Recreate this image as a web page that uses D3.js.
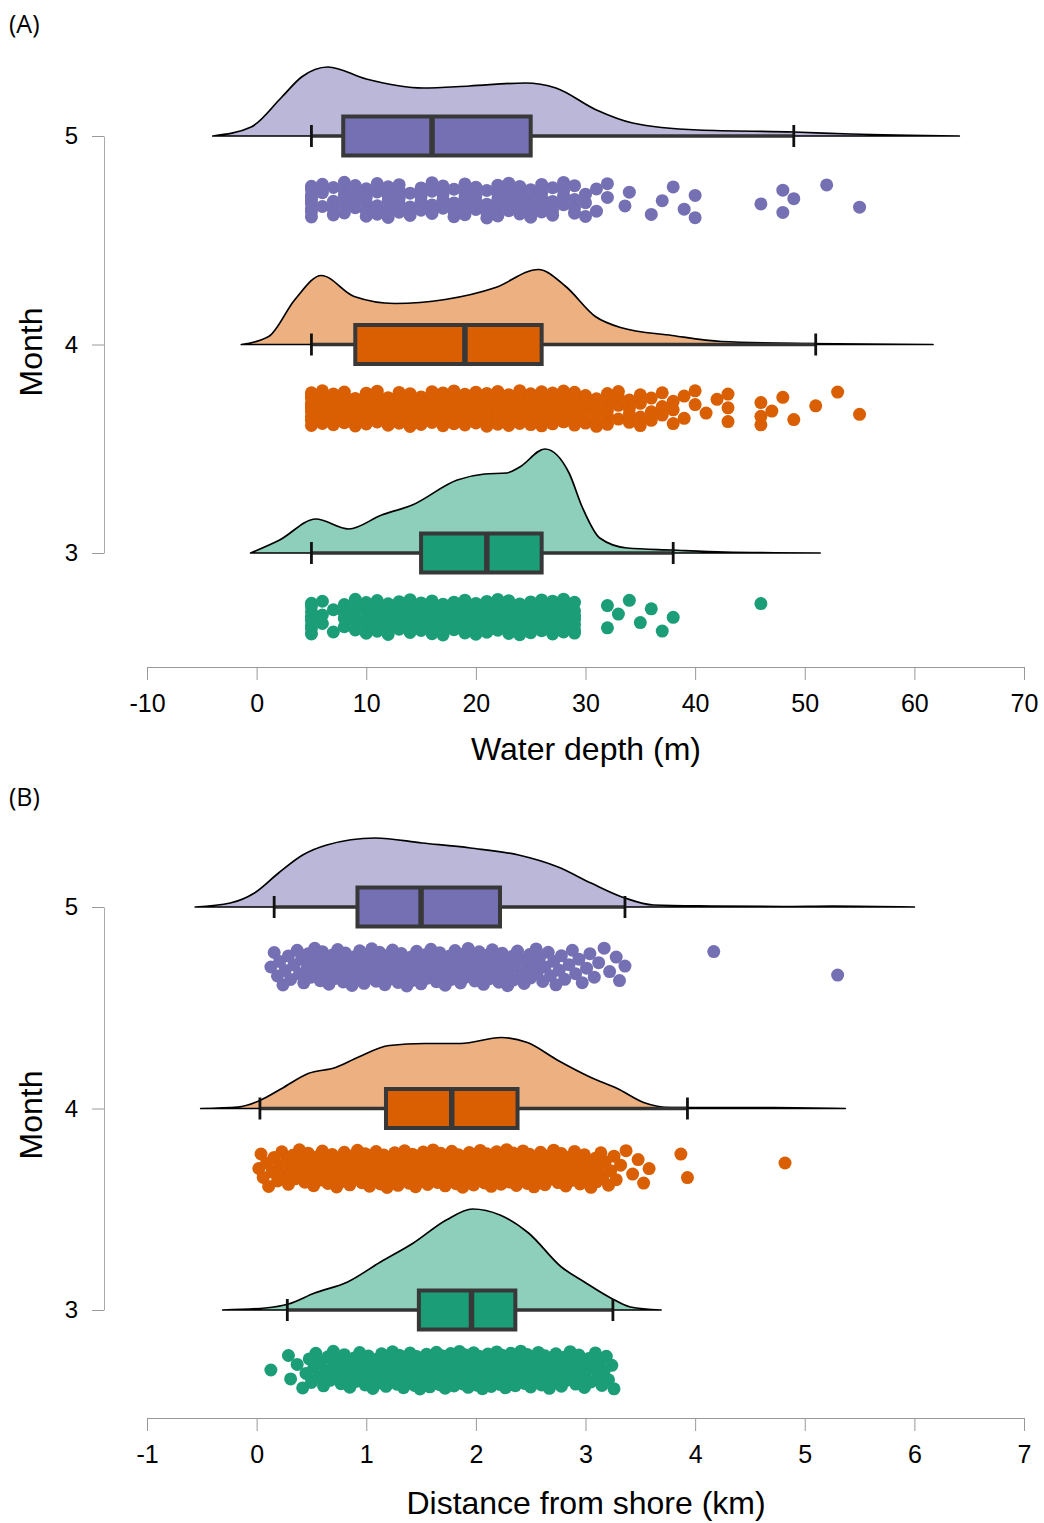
<!DOCTYPE html>
<html>
<head>
<meta charset="utf-8">
<script src="https://cdn.jsdelivr.net/npm/d3@7"></script>
<style>
  body { margin: 0; background: #fff; }
  svg { display: block; font-family: "Liberation Sans", Arial, sans-serif; }
</style>
</head>
<body>
<svg id="chart" width="1044" height="1523"></svg>
<script>
// ---------- shared ----------
const months = [5, 4, 3];
const monthColors = ["#7570b3", "#d95f02", "#1b9e77"];
const densityFills = ["#bab7d9", "#ecb081", "#8dcfba"];

// ---------- Panel A: water depth (m) ----------
const depthTicks = [-10, 0, 10, 20, 30, 40, 50, 60, 70];
// box statistics per month (5, 4, 3)
const depthWhiskLo = [5, 5, 5];
const depthQ1 = [7.9, 9, 15];
const depthMedian = [16, 19, 21];
const depthQ3 = [25, 26, 26];
const depthWhiskHi = [49, 51, 38];

// kernel density profiles
const depthDensX5 = [-4.0, -0.5, 2.3, 4.1, 6.5, 10, 15.2, 19.4, 24.5, 27.3, 31.0, 34.3, 40.3, 49, 54.2, 64.1];
const depthDens5 = [0, 0.0045, 0.0195, 0.0295, 0.0345, 0.0285, 0.024, 0.025, 0.0265, 0.024, 0.013, 0.0065, 0.003, 0.002, 0.001, 0];
const depthDensX4 = [-1.4, 1.1, 3.5, 5.9, 8.9, 12.6, 17.2, 21.8, 25.7, 28.2, 30.9, 33.2, 37.9, 42.4, 50, 61.7];
const depthDens4 = [0, 0.004, 0.0225, 0.0345, 0.024, 0.0205, 0.0225, 0.0285, 0.0375, 0.029, 0.014, 0.0085, 0.0045, 0.0015, 0.0005, 0];
const depthDensX3 = [-0.55, 2.1, 5.4, 8.4, 11.4, 14.2, 18.3, 20.8, 22.8, 24.0, 26.3, 28.5, 29.7, 31.3, 33.8, 37.9, 42.7, 51.4];
const depthDens3 = [0, 0.0065, 0.017, 0.012, 0.019, 0.024, 0.0365, 0.0395, 0.04, 0.043, 0.052, 0.04, 0.023, 0.0075, 0.0025, 0.0015, 0.0005, 0];

// observed depths (m) and number of observations at each depth
const depthValues5 = [5, 6, 7, 8, 9, 10, 11, 12, 13, 14, 15, 16, 17, 18, 19, 20, 21, 22, 23, 24, 25, 26, 27, 28, 29, 30, 31, 32, 33.6, 34, 36, 37, 38, 39, 40, 46, 48, 49, 52, 55];
const depthCounts5 = [9, 3, 4, 5, 4, 5, 4, 5, 5, 3, 4, 4, 4, 4, 5, 4, 4, 5, 5, 5, 5, 5, 4, 4, 4, 3, 2, 2, 1, 1, 1, 1, 1, 1, 2, 1, 2, 1, 1, 1];
const depthValues4 = [5, 6, 7, 8, 9, 10, 11, 12, 13, 14, 15, 16, 17, 18, 19, 20, 21, 22, 23, 24, 25, 26, 27, 28, 29, 30, 31, 32, 33, 34, 35, 36, 37, 38, 39, 40, 41, 42, 43, 46, 47, 48, 49, 51, 53, 55];
const depthCounts4 = [10, 10, 9, 7, 7, 7, 7, 7, 7, 7, 7, 7, 8, 8, 8, 8, 9, 9, 10, 10, 11, 11, 10, 8, 8, 6, 5, 5, 4, 4, 4, 3, 3, 3, 2, 2, 1, 1, 3, 3, 1, 1, 1, 1, 1, 1];
const depthValues3 = [5, 6, 7, 8, 9, 10, 11, 12, 13, 14, 15, 16, 17, 18, 19, 20, 21, 22, 23, 24, 25, 26, 27, 28, 29, 32, 33, 34, 35, 36, 37, 38, 46];
const depthCounts3 = [8, 3, 2, 4, 5, 6, 6, 6, 6, 6, 7, 7, 7, 7, 8, 8, 8, 8, 8, 9, 9, 9, 9, 8, 7, 2, 1, 1, 1, 1, 1, 1, 1];

// ---------- Panel B: distance from shore (km) ----------
const distTicks = [-1, 0, 1, 2, 3, 4, 5, 6, 7];
const distWhiskLo = [0.16, 0.03, 0.28];
const distQ1 = [0.92, 1.18, 1.48];
const distMedian = [1.5, 1.78, 1.96];
const distQ3 = [2.22, 2.38, 2.36];
const distWhiskHi = [3.36, 3.93, 3.25];

const distDensX5 = [-0.56, -0.24, -0.02, 0.2, 0.42, 0.64, 1.08, 1.51, 1.95, 2.39, 2.75, 3.05, 3.36, 3.62, 4.15, 4.8, 5.25, 6.0];
const distDens5 = [0, 0.02, 0.07, 0.17, 0.26, 0.31, 0.345, 0.32, 0.295, 0.26, 0.2, 0.12, 0.045, 0.01, 0.005, 0.0025, 0.005, 0];
const distDensX4 = [-0.51, -0.17, 0.03, 0.23, 0.47, 0.72, 0.92, 1.21, 1.53, 1.86, 2.23, 2.47, 2.75, 3.05, 3.29, 3.53, 3.78, 4.72, 5.37];
const distDens4 = [0, 0.0075, 0.04, 0.1, 0.175, 0.205, 0.255, 0.315, 0.325, 0.325, 0.355, 0.33, 0.24, 0.155, 0.1, 0.03, 0.005, 0.005, 0];
const distDensX3 = [-0.31, 0.08, 0.29, 0.53, 0.83, 1.13, 1.43, 1.73, 1.97, 2.22, 2.48, 2.78, 2.99, 3.23, 3.41, 3.69];
const distDens3 = [0, 0.01, 0.03, 0.085, 0.14, 0.24, 0.335, 0.45, 0.505, 0.475, 0.385, 0.215, 0.14, 0.06, 0.015, 0];

// observed distances (km)
const distValues5 = [
  0.13, 0.16, 0.19, 0.21, 0.24, 0.26, 0.29, 0.31, 0.34, 0.37, 0.39,
  0.41, 0.43, 0.46, 0.47, 0.49, 0.50, 0.53, 0.54, 0.56, 0.58, 0.59,
  0.60, 0.62, 0.65, 0.66, 0.68, 0.69, 0.71, 0.72, 0.74, 0.76, 0.77, 0.79,
  0.80, 0.81, 0.83, 0.85, 0.87, 0.88, 0.90, 0.91, 0.93, 0.94, 0.95, 0.97, 0.98, 0.99,
  1.00, 1.02, 1.04, 1.05, 1.06, 1.08, 1.09, 1.11, 1.12, 1.13, 1.15, 1.17, 1.18, 1.19,
  1.21, 1.23, 1.24, 1.26, 1.28, 1.29, 1.30, 1.32, 1.33, 1.35, 1.37, 1.39,
  1.41, 1.42, 1.44, 1.46, 1.48, 1.49, 1.50, 1.53, 1.54, 1.55, 1.57, 1.59,
  1.61, 1.63, 1.64, 1.66, 1.67, 1.69, 1.70, 1.72, 1.74, 1.76, 1.77, 1.79,
  1.81, 1.82, 1.84, 1.86, 1.88, 1.89, 1.90, 1.92, 1.93, 1.95, 1.97, 1.99,
  2.01, 2.03, 2.04, 2.06, 2.07, 2.09, 2.10, 2.12, 2.14, 2.15, 2.18, 2.19,
  2.21, 2.22, 2.24, 2.26, 2.27, 2.29, 2.30, 2.33, 2.34, 2.36, 2.38,
  2.41, 2.43, 2.44, 2.47, 2.49, 2.50, 2.52, 2.55, 2.56, 2.58,
  2.61, 2.63, 2.66, 2.68, 2.71, 2.73, 2.76, 2.78, 2.81, 2.85, 2.88,
  2.91, 2.94, 2.97, 3.01, 3.04, 3.08, 3.12, 3.17, 3.22, 3.28, 3.31, 3.36,
  4.17, 5.30
];
const distValues4 = [
  0.02, 0.04, 0.06, 0.09, 0.11, 0.14, 0.16, 0.19, 0.20, 0.23, 0.25, 0.27, 0.29,
  0.31, 0.33, 0.35, 0.38, 0.39, 0.40, 0.42, 0.44, 0.45, 0.47, 0.49,
  0.51, 0.52, 0.54, 0.56, 0.58, 0.59, 0.60, 0.62, 0.63, 0.65, 0.67, 0.69,
  0.70, 0.71, 0.73, 0.74, 0.76, 0.78, 0.79, 0.80, 0.82, 0.83, 0.85, 0.86, 0.88, 0.89,
  0.91, 0.92, 0.93, 0.95, 0.96, 0.98, 0.99,
  1.00, 1.01, 1.03, 1.04, 1.05, 1.07, 1.08, 1.09, 1.10, 1.12, 1.13, 1.14, 1.16, 1.17, 1.18, 1.19,
  1.21, 1.22, 1.23, 1.25, 1.26, 1.27, 1.28, 1.29, 1.30, 1.31, 1.33, 1.34, 1.35, 1.37, 1.38, 1.39,
  1.40, 1.42, 1.43, 1.44, 1.45, 1.47, 1.48, 1.49, 1.51, 1.52, 1.53, 1.54, 1.56, 1.57, 1.58, 1.59,
  1.60, 1.61, 1.63, 1.64, 1.65, 1.66, 1.68, 1.69, 1.70, 1.72, 1.73, 1.74, 1.75, 1.77, 1.78, 1.79,
  1.81, 1.82, 1.83, 1.84, 1.86, 1.87, 1.88, 1.89, 1.90, 1.91, 1.93, 1.94, 1.95, 1.96, 1.98, 1.99,
  2.00, 2.02, 2.03, 2.04, 2.05, 2.07, 2.08, 2.09, 2.10, 2.11, 2.12, 2.14, 2.15, 2.16, 2.17, 2.18, 2.19,
  2.20, 2.21, 2.23, 2.24, 2.25, 2.26, 2.27, 2.28, 2.29, 2.30, 2.31, 2.32, 2.34, 2.35, 2.36, 2.37, 2.38, 2.39,
  2.40, 2.42, 2.43, 2.44, 2.46, 2.47, 2.48, 2.49, 2.50, 2.51, 2.53, 2.54, 2.55, 2.57, 2.58, 2.59,
  2.60, 2.62, 2.63, 2.65, 2.66, 2.68, 2.69, 2.71, 2.72, 2.74, 2.75, 2.77, 2.78, 2.79,
  2.80, 2.82, 2.84, 2.86, 2.87, 2.89, 2.90, 2.92, 2.93, 2.95, 2.97, 2.99,
  3.01, 3.03, 3.05, 3.07, 3.09, 3.10, 3.12, 3.14, 3.16, 3.18, 3.21, 3.23, 3.26, 3.28,
  3.32, 3.37, 3.43, 3.48, 3.53, 3.58, 3.87, 3.93, 4.82
];
const distValues3 = [
  0.13, 0.29, 0.31, 0.37, 0.42, 0.45, 0.48,
  0.50, 0.52, 0.54, 0.56, 0.58, 0.61, 0.63, 0.65, 0.67, 0.69, 0.70, 0.72, 0.74, 0.77, 0.79,
  0.80, 0.82, 0.84, 0.85, 0.87, 0.89, 0.90, 0.92, 0.94, 0.95, 0.97, 0.99,
  1.00, 1.02, 1.03, 1.05, 1.06, 1.08, 1.09, 1.11, 1.12, 1.14, 1.15, 1.16, 1.18, 1.19,
  1.20, 1.21, 1.23, 1.24, 1.25, 1.27, 1.28, 1.29, 1.30, 1.32, 1.33, 1.34, 1.36, 1.37, 1.38, 1.39,
  1.40, 1.41, 1.42, 1.44, 1.45, 1.46, 1.47, 1.48, 1.49, 1.50, 1.51, 1.53, 1.54, 1.55, 1.56, 1.57, 1.58, 1.59,
  1.60, 1.61, 1.62, 1.64, 1.65, 1.66, 1.67, 1.68, 1.69,
  1.70, 1.71, 1.72, 1.73, 1.74, 1.75, 1.76, 1.77, 1.78, 1.79,
  1.80, 1.81, 1.82, 1.83, 1.84, 1.85, 1.86, 1.87, 1.88, 1.89,
  1.90, 1.91, 1.92, 1.93, 1.94, 1.95, 1.96, 1.97, 1.98, 1.99,
  2.00, 2.01, 2.02, 2.03, 2.04, 2.05, 2.06, 2.07, 2.08, 2.09,
  2.10, 2.11, 2.12, 2.13, 2.14, 2.15, 2.16, 2.17, 2.18, 2.19,
  2.20, 2.21, 2.22, 2.23, 2.24, 2.25, 2.26, 2.27, 2.28, 2.29,
  2.30, 2.31, 2.32, 2.34, 2.35, 2.36, 2.37, 2.38, 2.39, 2.40, 2.41, 2.43, 2.44, 2.45, 2.46, 2.47, 2.48, 2.49,
  2.50, 2.51, 2.53, 2.54, 2.55, 2.57, 2.58, 2.59, 2.60, 2.62, 2.63, 2.64, 2.65, 2.67, 2.68, 2.69,
  2.70, 2.72, 2.73, 2.75, 2.76, 2.78, 2.79, 2.80, 2.82, 2.84, 2.86, 2.87, 2.89,
  2.91, 2.92, 2.94, 2.95, 2.97, 2.99, 3.00, 3.03, 3.05, 3.07, 3.09,
  3.11, 3.13, 3.15, 3.17, 3.19, 3.21, 3.24, 3.26
];

// ---------- helpers ----------
function expandCounts(values, counts) {
  const out = [];
  values.forEach((v, i) => { for (let k = 0; k < counts[i]; k++) out.push(v); });
  return out;
}
// evenly spread vertical jitter in [-0.5, 0.5)
function jitter(i) { return ((i * 0.6180339887 + 0.5) % 1) - 0.5; }

const svg = d3.select("#chart");

const panels = [
  {
    tag: "(A)", tagY: 33, title: "Water depth (m)", titleY: 760,
    xDomain: [-10, 70], ticks: depthTicks, y5: 136, y3: 553, axisY: 667, monthY: 352,
    densMax: 0.05, cloudOffset: 64, cloudHalf: 18,
    groups: [
      { densX: depthDensX5, dens: depthDens5, pts: expandCounts(depthValues5, depthCounts5) },
      { densX: depthDensX4, dens: depthDens4, pts: expandCounts(depthValues4, depthCounts4) },
      { densX: depthDensX3, dens: depthDens3, pts: expandCounts(depthValues3, depthCounts3) }
    ],
    lo: depthWhiskLo, q1: depthQ1, med: depthMedian, q3: depthQ3, hi: depthWhiskHi
  },
  {
    tag: "(B)", tagY: 806, title: "Distance from shore (km)", titleY: 1514,
    xDomain: [-1, 7], ticks: distTicks, y5: 907, y3: 1310, axisY: 1418, monthY: 1115,
    densMax: 0.5, cloudOffset: 60, cloudHalf: 19,
    groups: [
      { densX: distDensX5, dens: distDens5, pts: distValues5 },
      { densX: distDensX4, dens: distDens4, pts: distValues4 },
      { densX: distDensX3, dens: distDens3, pts: distValues3 }
    ],
    lo: distWhiskLo, q1: distQ1, med: distMedian, q3: distQ3, hi: distWhiskHi
  }
];

function drawPanel(p) {
  const g = svg.append("g");
  const x = d3.scaleLinear().domain(p.xDomain).range([147, 1024]);
  const y = d3.scaleLinear().domain([3, 5]).range([p.y3, p.y5]);
  const dh = d3.scaleLinear().domain([0, p.densMax]).range([0, 100]);

  // panel tag
  g.append("text").attr("x", 9).attr("y", p.tagY)
    .attr("font-size", 25).attr("fill", "#000")
    .attr("font-family", "'Open Sans', 'Liberation Sans', sans-serif").text(p.tag);

  // y axis
  const yAxis = g.append("g").attr("transform", "translate(104,0)")
    .call(d3.axisLeft(y).tickValues(months).tickSize(12).tickSizeOuter(0)
      .tickPadding(14).tickFormat(d => String(d)));
  yAxis.select(".domain").attr("stroke", "#aaa");
  yAxis.selectAll(".tick line").attr("stroke", "#999");
  yAxis.selectAll(".tick text").attr("font-size", 24).attr("fill", "#000")
    .attr("font-family", "Liberation Sans, Arial, sans-serif");

  g.append("text")
    .attr("transform", `translate(42,${p.monthY}) rotate(-90)`)
    .attr("text-anchor", "middle").attr("font-size", 32).attr("fill", "#000")
    .text("Month");

  // x axis
  const xAxis = g.append("g").attr("transform", `translate(0,${p.axisY})`)
    .call(d3.axisBottom(x).tickValues(p.ticks).tickSize(13).tickSizeOuter(0)
      .tickPadding(14).tickFormat(d => String(d)));
  xAxis.select(".domain").attr("stroke", "#999");
  xAxis.selectAll(".tick line").attr("stroke", "#999");
  xAxis.selectAll(".tick text").attr("font-size", 25).attr("fill", "#000")
    .attr("font-family", "Liberation Sans, Arial, sans-serif");

  g.append("text").attr("x", 586).attr("y", p.titleY)
    .attr("text-anchor", "middle").attr("font-size", 32).attr("fill", "#000")
    .text(p.title);

  p.groups.forEach((grp, k) => {
    const cy = y(months[k]);
    const color = monthColors[k];

    // half violin (density above the baseline)
    const profile = grp.densX.map((v, i) => [v, grp.dens[i]]);
    const area = d3.area()
      .x(d => x(d[0])).y0(cy).y1(d => cy - dh(d[1]))
      .curve(d3.curveMonotoneX);
    g.append("path").attr("d", area(profile))
      .attr("fill", densityFills[k]).attr("stroke", "#000")
      .attr("stroke-width", 1.7).attr("stroke-linejoin", "round");

    // whiskers
    g.append("line")
      .attr("x1", x(p.lo[k])).attr("x2", x(p.hi[k]))
      .attr("y1", cy).attr("y2", cy)
      .attr("stroke", "#333").attr("stroke-width", 3.5);
    [p.lo[k], p.hi[k]].forEach(v => {
      g.append("line").attr("x1", x(v)).attr("x2", x(v))
        .attr("y1", cy - 11).attr("y2", cy + 11)
        .attr("stroke", "#111").attr("stroke-width", 2.8);
    });

    // box
    g.append("rect")
      .attr("x", x(p.q1[k])).attr("y", cy - 19.5)
      .attr("width", x(p.q3[k]) - x(p.q1[k])).attr("height", 39)
      .attr("fill", color).attr("stroke", "#383838").attr("stroke-width", 4);
    g.append("line")
      .attr("x1", x(p.med[k])).attr("x2", x(p.med[k]))
      .attr("y1", cy - 19.5).attr("y2", cy + 19.5)
      .attr("stroke", "#383838").attr("stroke-width", 5.5);

    // raw observations (rain)
    const cloudY = cy + p.cloudOffset;
    g.append("g").selectAll("circle").data(grp.pts).join("circle")
      .attr("cx", d => x(d))
      .attr("cy", (d, i) => cloudY + jitter(i) * 2 * p.cloudHalf)
      .attr("r", 6.5)
      .attr("fill", color);
  });
}

panels.forEach(drawPanel);
</script>
</body>
</html>
